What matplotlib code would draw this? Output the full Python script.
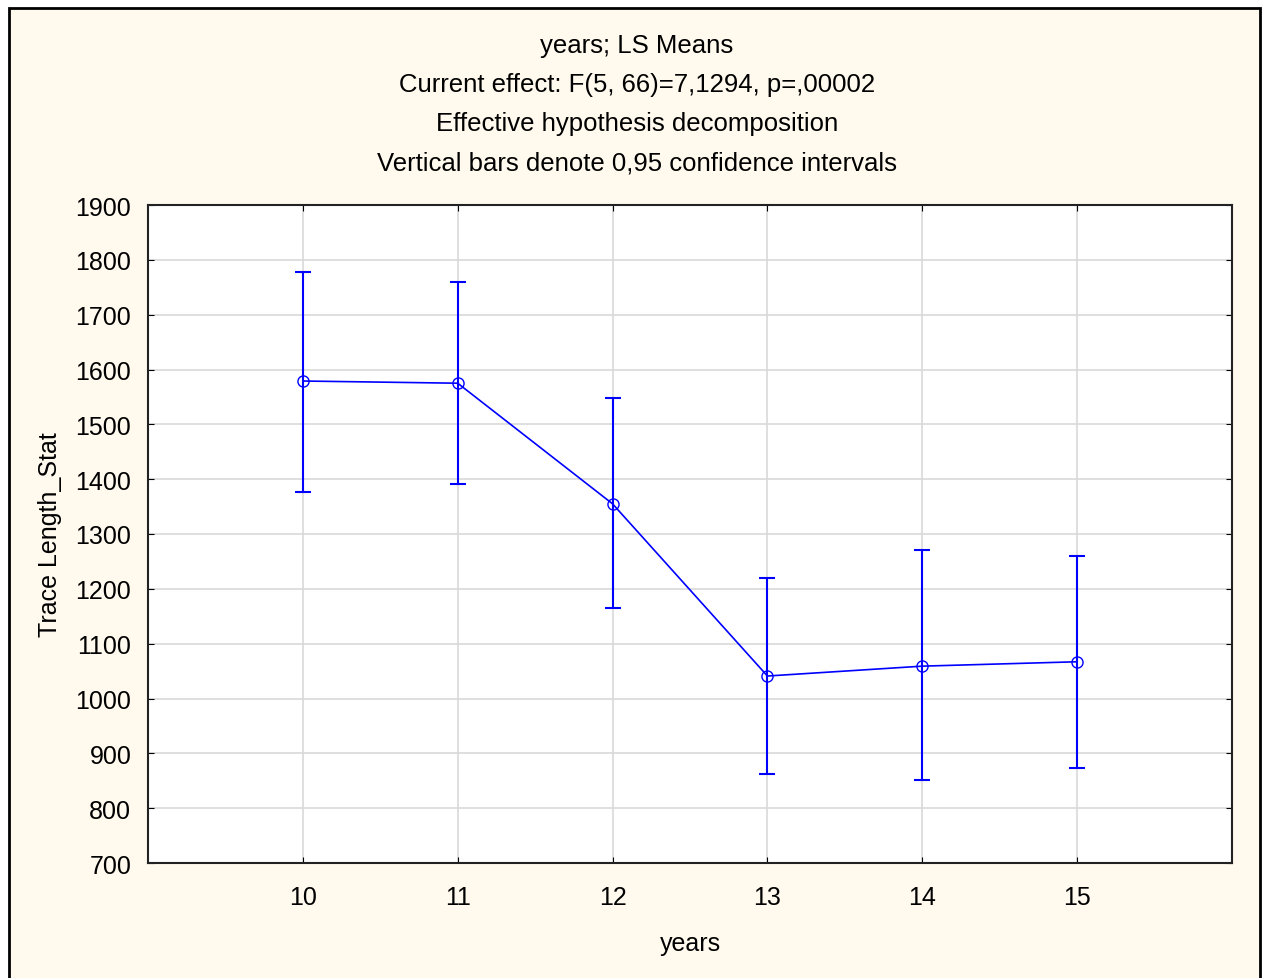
import matplotlib.pyplot as plt
from matplotlib.patches import Rectangle

plt.rcParams['font.family'] = ['Liberation Sans', 'DejaVu Sans']

years = [10, 11, 12, 13, 14, 15]
ls_means = [1579, 1575, 1355, 1041, 1059, 1067]
ci_upper = [1778, 1760, 1548, 1220, 1271, 1260]
ci_lower = [1377, 1391, 1165, 862, 851, 873]

title_lines = [
    'years; LS Means',
    'Current effect: F(5, 66)=7,1294, p=,00002',
    'Effective hypothesis decomposition',
    'Vertical bars denote 0,95 confidence intervals',
]

err_low = [m - lo for m, lo in zip(ls_means, ci_lower)]
err_high = [hi - m for m, hi in zip(ls_means, ci_upper)]

fig = plt.figure(figsize=(12.62, 9.79), dpi=100)
fig.patch.set_facecolor('white')
# cream panel with a black frame behind everything
fig.patches.append(Rectangle((9 / 1262, -0.01), 1251 / 1262, 1 - 9 / 979 + 0.01,
                             transform=fig.transFigure, facecolor='#fff9ee',
                             edgecolor='black', linewidth=2, zorder=-10))

ax = fig.add_axes([148 / 1262, 1 - 864 / 979, 1084 / 1262, 658 / 979])
ax.set_facecolor('white')

ax.errorbar(years, ls_means, yerr=[err_low, err_high], fmt='o-', color='#0000ff',
            markerfacecolor='none', markersize=8, linewidth=1.2, elinewidth=1.5,
            capsize=6, capthick=1.5, zorder=3)

ax.set_xlim(9, 16)
ax.set_ylim(700, 1900)
ax.set_xticks(years)
ax.set_yticks(range(700, 2000, 100))
ax.grid(True, color='#d9d9d9', linewidth=1.2)
ax.set_axisbelow(True)
ax.tick_params(direction='in', length=4, top=True, right=True, labelsize=18)
ax.tick_params(axis='x', pad=16)
ax.tick_params(axis='y', pad=12)
for spine in ax.spines.values():
    spine.set_linewidth(1.5)
    spine.set_color('#222222')

ax.set_xlabel('years', fontsize=18, labelpad=16)
ax.set_ylabel('Trace Length_Stat', fontsize=18, labelpad=10)

for i, line in enumerate(title_lines):
    fig.text(637 / 1262, 1 - (46 + 39 * i) / 979, line, ha='center', va='center', fontsize=18.5)

fig.savefig('out.png', dpi=100)
